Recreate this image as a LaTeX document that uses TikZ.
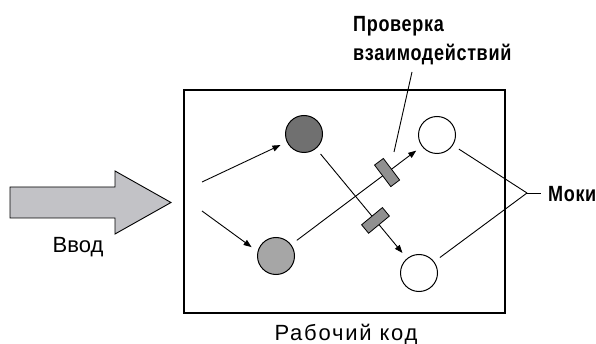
\documentclass[tikz,border=0pt]{standalone}
\usepackage{fontspec}
\setmainfont{Liberation Sans}
\newfontfamily\cbold[FakeStretch=0.82,LetterSpace=3]{Liberation Sans}
\newfontfamily\widefont[LetterSpace=8]{Liberation Sans}
\usetikzlibrary{arrows.meta}
\definecolor{arrgray}{RGB}{194,194,198}
\definecolor{darkc}{RGB}{112,112,112}
\definecolor{lightc}{RGB}{166,166,166}
\definecolor{chkgray}{RGB}{144,144,144}
\begin{document}
\begin{tikzpicture}[x=1pt,y=-1pt,
  circ/.style={circle,draw=black,line width=1pt,minimum size=37pt,inner sep=0pt,outer sep=7.5pt},
  conn/.style={line width=0.9pt},
  arr/.style={conn,-{Triangle[length=8pt,width=6pt]}},
  chk/.style={draw=black,fill=chkgray,line width=0.8pt,minimum width=11pt,minimum height=27pt,inner sep=0pt,sloped},
  blab/.style={font=\fontsize{22}{29.5}\selectfont\cbold\bfseries, inner sep=0pt},
  rlab/.style={font=\fontsize{22}{26}\selectfont, inner sep=0pt}]
\useasboundingbox (0,0) rectangle (596,344);
% input arrow
\draw[line width=0.9pt,fill=arrgray] (10,187) -- (115,187) -- (115,171) -- (171,202.5) -- (115,234) -- (115,218) -- (10,218) -- cycle;
\node[rlab,anchor=base] (in) at (78,253) {Ввод};
% working code box
\node[draw=black,line width=1.3pt,minimum width=321pt,minimum height=223pt,inner sep=0pt] (code) at (344.5,201.5) {};
\node[rlab,anchor=base] (codelab) at (346,340) {\widefont Рабочий код};
% circles
\node[circ,fill=darkc] (dk) at (304,134) {};
\node[circ,fill=lightc] (lt) at (276,256) {};
\node[circ,fill=white] (w1) at (437,135) {};
\node[circ,fill=white] (w2) at (419,273) {};
% inputs
\coordinate (s1) at (202,182);
\coordinate (s2) at (202,211);
\draw[arr] (s1) -- (dk);
\draw[arr] (s2) -- (lt.160);
% interactions
\draw[arr] (lt) -- node[chk,pos=0.756] (c1) {} (w1);
\draw[arr] (dk) -- node[chk,pos=0.671] (c2) {} (w2);
% label Проверка взаимодействий
\node[blab,anchor=north west,align=left] (chklab) at (353,16) {Проверка\\взаимодействий};
\coordinate (p1) at (394,152);
\coordinate (p2) at (412,72);
\draw[conn] (p1) -- (p2);
% mocks
\coordinate (j) at (527,193);
\node[blab,anchor=base west] (moki) at (548,202) {Моки};
\draw[conn] (w1) -- (j);
\draw[conn] (w2) -- (j);
\draw[conn] (j) -- (541,193);
\end{tikzpicture}
\end{document}
